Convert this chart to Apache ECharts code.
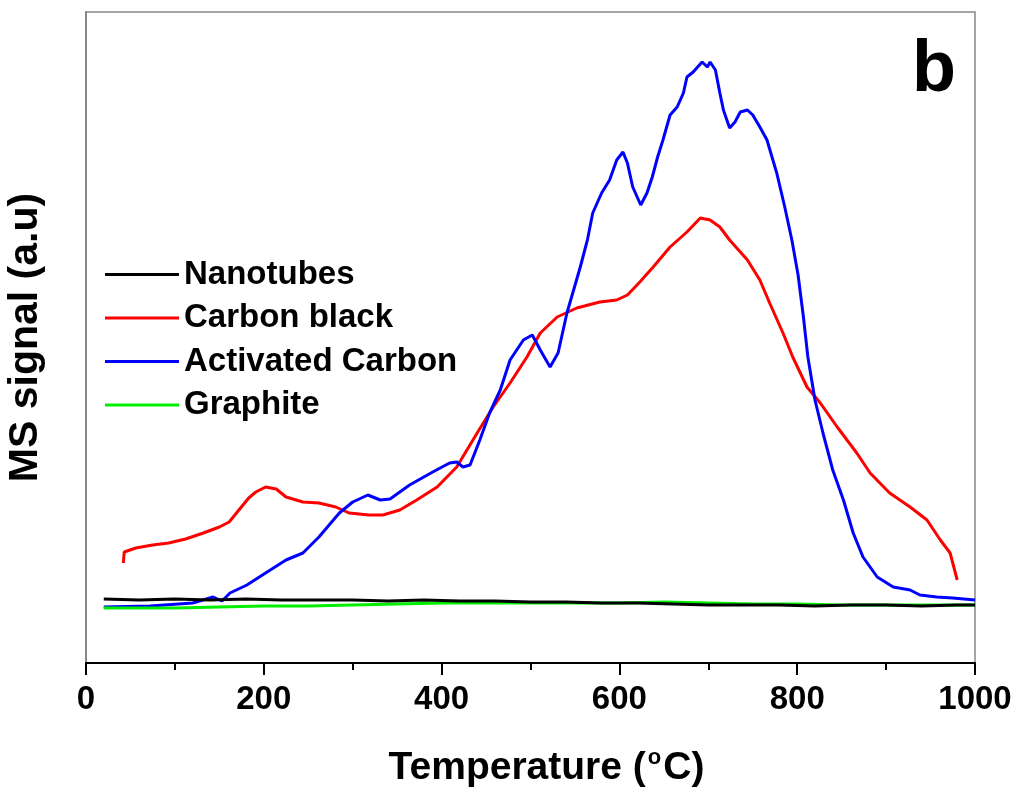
<!DOCTYPE html>
<html>
<head>
<meta charset="utf-8">
<title>MS signal vs temperature</title>
<script src="https://cdn.jsdelivr.net/npm/echarts@6/dist/echarts.min.js"></script>
<style>
  html, body { margin: 0; padding: 0; background: #ffffff; }
  #chart { width: 1021px; height: 796px; }
</style>
</head>
<body>
<div id="chart"></div>
<script>
// Temperature (°C) and MS signal (a.u.) for each carbon sample
const nanotubesT = [20, 60, 100, 140, 180, 220, 260, 300, 340, 380, 420, 460, 500, 540, 580, 620, 660, 700, 740, 780, 820, 860, 900, 940, 980, 1000];
const nanotubesS = [64, 63, 64, 63, 64, 63, 63, 63, 62, 63, 62, 62, 61, 61, 60, 60, 59, 58, 58, 58, 57, 58, 58, 57, 58, 58];

const carbonBlackT = [42, 43, 56, 75, 93, 112, 132, 150, 161, 172, 183, 191, 202, 214, 225, 244, 262, 281, 296, 318, 334, 353, 372, 395, 417, 440, 458, 477, 496, 511, 530, 552, 578, 597, 609, 623, 638, 657, 676, 691, 702, 713, 724, 744, 758, 769, 784, 795, 811, 826, 845, 867, 882, 904, 927, 946, 961, 972, 980];
const carbonBlackS = [100, 111, 115, 118, 120, 124, 130, 136, 141, 153, 165, 171, 176, 174, 166, 161, 160, 156, 150, 148, 148, 153, 163, 176, 196, 230, 256, 280, 306, 330, 346, 355, 361, 363, 368, 381, 396, 416, 431, 445, 443, 436, 423, 403, 383, 360, 330, 306, 276, 260, 236, 210, 190, 170, 156, 143, 123, 110, 83];

const activatedT = [20, 72, 120, 143, 153, 162, 181, 202, 225, 244, 262, 285, 300, 317, 331, 342, 364, 390, 409, 417, 424, 432, 443, 454, 466, 477, 492, 502, 511, 522, 531, 541, 556, 564, 570, 580, 589, 597, 604, 609, 615, 624, 631, 637, 643, 649, 657, 665, 672, 676, 683, 693, 699, 702, 708, 713, 717, 724, 730, 736, 744, 750, 758, 766, 777, 786, 794, 801, 807, 812, 820, 829, 840, 852, 863, 874, 890, 908, 927, 938, 957, 975, 1000];
const activatedS = [56, 57, 60, 66, 62, 70, 78, 90, 103, 110, 126, 150, 161, 168, 163, 164, 178, 191, 200, 201, 196, 198, 223, 250, 273, 303, 323, 328, 313, 296, 310, 350, 396, 423, 450, 470, 483, 503, 511, 500, 476, 458, 470, 486, 506, 523, 548, 556, 570, 586, 591, 601, 596, 601, 593, 570, 553, 535, 541, 551, 553, 548, 536, 523, 490, 456, 423, 388, 346, 306, 263, 230, 193, 163, 130, 106, 86, 76, 73, 68, 66, 65, 63];

const graphiteT = [20, 60, 100, 150, 200, 250, 300, 350, 400, 450, 500, 550, 600, 650, 700, 750, 800, 850, 900, 950, 1000];
const graphiteS = [55, 55, 55, 56, 57, 57, 58, 59, 60, 60, 60, 60, 60, 61, 60, 59, 59, 58, 58, 58, 58];

const seriesNames = ['Nanotubes', 'Carbon black', 'Activated Carbon', 'Graphite'];
const seriesColors = ['#000000', '#ff0000', '#0000ff', '#00ee00'];
const xTicks = [0, 200, 400, 600, 800, 1000];

const pairs = (t, s) => t.map((v, i) => [v, s[i]]);
const seriesData = [
  pairs(nanotubesT, nanotubesS),
  pairs(carbonBlackT, carbonBlackS),
  pairs(activatedT, activatedS),
  pairs(graphiteT, graphiteS)
];

const FONT = 'Liberation Sans, Arial, sans-serif';
const chart = echarts.init(document.getElementById('chart'), null, { renderer: 'canvas' });

chart.setOption({
  backgroundColor: '#ffffff',
  animation: false,
  grid: {
    left: 86, right: 46, top: 12, bottom: 133,
    outerBoundsMode: 'none',
    containLabel: false,
    show: true, borderColor: '#888888', borderWidth: 1.5, backgroundColor: 'transparent'
  },
  legend: {
    orient: 'vertical',
    left: 100,
    top: 253,
    icon: 'rect',
    itemWidth: 74,
    itemHeight: 3,
    itemGap: 10.5,
    data: seriesNames,
    textStyle: { fontFamily: FONT, fontWeight: 'bold', fontSize: 33, lineHeight: 32, color: '#000' }
  },
  xAxis: {
    type: 'value',
    min: xTicks[0],
    max: xTicks[xTicks.length - 1],
    interval: 200,
    name: 'Temperature ({sup|o}C)',
    nameLocation: 'middle',
    nameGap: 84,
    nameTextStyle: {
      fontFamily: FONT, fontWeight: 'bold', fontSize: 39, color: '#000',
      padding: [0, 0, 0, 32],
      rich: { sup: { fontFamily: FONT, fontWeight: 'bold', fontSize: 22, color: '#000', padding: [0, 2, 20, 2] } }
    },
    axisLine: { show: true, onZero: false, lineStyle: { color: '#000', width: 2 } },
    axisTick: { show: true, inside: false, length: 12, lineStyle: { color: '#000', width: 2 } },
    minorTick: { show: true, splitNumber: 2, length: 7, lineStyle: { color: '#000', width: 2 } },
    axisLabel: {
      margin: 20, fontFamily: FONT, fontWeight: 'bold', fontSize: 33, color: '#000',
      formatter: (v) => String(v)
    },
    splitLine: { show: false }
  },
  yAxis: {
    type: 'value',
    min: 0,
    max: 651,
    name: 'MS signal (a.u)',
    nameLocation: 'middle',
    nameGap: 40,
    nameTextStyle: { fontFamily: FONT, fontWeight: 'bold', fontSize: 41, color: '#000' },
    axisLine: { show: true, lineStyle: { color: '#888888', width: 2 } },
    axisTick: { show: false },
    axisLabel: { show: false },
    splitLine: { show: false }
  },
  graphic: [{
    type: 'text',
    left: 912,
    top: 35,
    style: { text: 'b', fontFamily: FONT, fontWeight: 'bold', fontSize: 72, fill: '#000' }
  }],
  series: seriesNames.map((name, i) => ({
    name: name,
    type: 'line',
    data: seriesData[i],
    symbol: 'none',
    smooth: false,
    color: seriesColors[i],
    lineStyle: { color: seriesColors[i], width: 3 },
    z: i === 0 ? 3 : 2
  }))
});
</script>
</body>
</html>
